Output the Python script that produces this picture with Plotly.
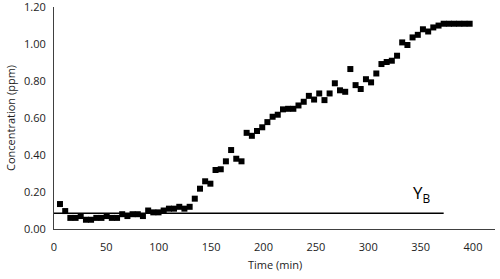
import plotly.graph_objects as go

time_min = [5.7, 10.7, 15.6, 20.6, 25.5, 30.5, 35.4, 40.4, 45.3, 50.3,
            55.2, 60.2, 65.1, 70.1, 75.0, 80.0, 84.9, 89.9, 94.8, 99.8,
            104.7, 109.7, 114.6, 119.6, 124.5, 129.5, 134.4, 139.4, 144.3, 149.3,
            154.2, 159.2, 164.1, 169.1, 174.0, 179.0, 183.9, 188.9, 193.8, 198.8,
            203.7, 208.7, 213.6, 218.6, 223.5, 228.5, 233.4, 238.4, 243.3, 248.3,
            253.2, 258.2, 263.1, 268.1, 273.0, 278.0, 282.9, 287.9, 292.8, 297.8,
            302.7, 307.7, 312.6, 317.6, 322.5, 327.5, 332.4, 337.4, 342.3, 347.3,
            352.2, 357.2, 362.1, 367.1, 372.0, 377.0, 381.9, 386.9, 391.8, 396.8]

concentration = [0.135, 0.097, 0.06, 0.06, 0.07, 0.05, 0.05, 0.06, 0.06, 0.07,
                 0.06, 0.06, 0.08, 0.07, 0.08, 0.08, 0.07, 0.10, 0.09, 0.09,
                 0.10, 0.11, 0.11, 0.12, 0.11, 0.12, 0.164, 0.218, 0.258, 0.245,
                 0.319, 0.323, 0.366, 0.427, 0.38, 0.366, 0.52, 0.504, 0.53, 0.55,
                 0.578, 0.607, 0.618, 0.647, 0.65, 0.65, 0.668, 0.688, 0.72, 0.70,
                 0.733, 0.697, 0.733, 0.788, 0.75, 0.742, 0.865, 0.778, 0.757, 0.81,
                 0.793, 0.841, 0.892, 0.903, 0.91, 0.937, 1.009, 0.995, 1.036, 1.05,
                 1.08, 1.068, 1.09, 1.10, 1.11, 1.11, 1.11, 1.11, 1.11, 1.11]

yb_x = [0, 372]
yb_y = [0.085, 0.085]

x_ticks = [0, 50, 100, 150, 200, 250, 300, 350, 400]
y_ticks = [0.0, 0.2, 0.4, 0.6, 0.8, 1.0, 1.2]

font_family = "Open Sans, Liberation Sans, sans-serif"

fig = go.Figure()
fig.add_trace(go.Scatter(x=yb_x, y=yb_y, mode="lines",
                         line=dict(color="black", width=1.5), showlegend=False))
fig.add_trace(go.Scatter(x=time_min, y=concentration, mode="markers",
                         marker=dict(symbol="square", size=6, color="black"),
                         showlegend=False))

fig.add_annotation(x=372, y=0.085, xref="x", yref="y", text="Y<sub>B</sub>",
                   showarrow=False, xanchor="right", yanchor="bottom", yshift=5, xshift=-11,
                   font=dict(family=font_family, size=17, color="black"))

L, R, T, B = 54, 5, 7, 50
plot_w = 500 - L - R
plot_h = 279 - T - B

# axis titles placed by pixel position converted to paper coordinates
fig.add_annotation(x=0.5, y=-(264 - (279 - B)) / plot_h, xref="paper", yref="paper",
                   text="Time (min)", showarrow=False, xanchor="center", yanchor="middle",
                   font=dict(family=font_family, size=11, color="#222222"))
fig.add_annotation(x=-(L - 10) / plot_w, y=0.5, xref="paper", yref="paper",
                   text="Concentration (ppm)", showarrow=False, xanchor="center",
                   yanchor="middle", textangle=-90,
                   font=dict(family=font_family, size=11, color="#222222"))

fig.update_layout(
    width=500, height=279,
    margin=dict(l=L, r=R, t=T, b=B),
    paper_bgcolor="white", plot_bgcolor="white",
    font=dict(family=font_family, size=11, color="#222222"),
    xaxis=dict(range=[0, 421], tickvals=x_ticks, showgrid=False, zeroline=False,
               showline=True, linecolor="#404040", linewidth=1, ticks="",
               automargin=False, ticklabelstandoff=8,
               tickfont=dict(size=11)),
    yaxis=dict(range=[0, 1.2005], tickvals=y_ticks, tickformat=".2f", showgrid=False,
               zeroline=False, showline=True, linecolor="#404040", linewidth=1, ticks="",
               automargin=False, ticklabeloverflow="allow", ticklabelstandoff=5,
               tickfont=dict(size=11)),
)

fig.write_html("out.html", config={"displayModeBar": False})

with open("out.html", "r", encoding="utf-8") as f:
    html = f.read()
html = html.replace("<body>", '<body style="margin:0;padding:0;">', 1)
with open("out.html", "w", encoding="utf-8") as f:
    f.write(html)
